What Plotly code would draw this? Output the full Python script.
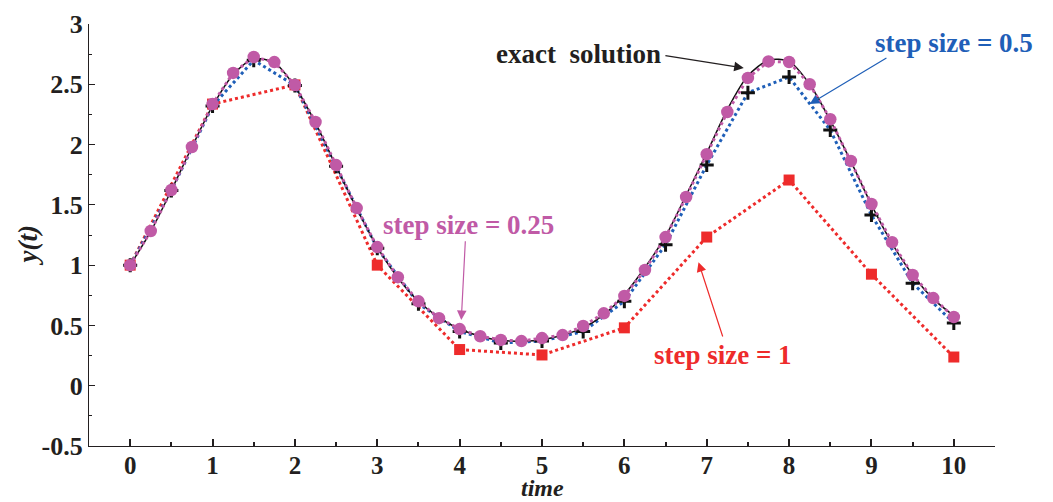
import plotly.graph_objects as go

# ---- data ----
t_exact = [i * 0.25 for i in range(41)]
y_exact = [1.00, 1.28, 1.62, 1.98, 2.32, 2.58, 2.71, 2.68, 2.48, 2.18,
           1.82, 1.47, 1.15, 0.895, 0.70, 0.565, 0.47, 0.41, 0.375, 0.37,
           0.38, 0.42, 0.48, 0.59, 0.755, 0.98, 1.24, 1.58, 1.93, 2.29,
           2.57, 2.70, 2.69, 2.50, 2.20, 1.86, 1.50, 1.18, 0.92, 0.72, 0.58]

t_h025 = [i * 0.25 for i in range(41)]
y_h025 = [1.00, 1.283, 1.623, 1.98, 2.336, 2.594, 2.726, 2.684, 2.494, 2.187,
          1.83, 1.473, 1.15, 0.90, 0.70, 0.56, 0.47, 0.41, 0.38, 0.37,
          0.395, 0.42, 0.495, 0.60, 0.745, 0.96, 1.233, 1.565, 1.92, 2.27,
          2.553, 2.69, 2.685, 2.50, 2.21, 1.864, 1.507, 1.19, 0.918, 0.727, 0.57]

t_h05 = [i * 0.5 for i in range(21)]
y_h05 = [1.00, 1.62, 2.32, 2.70, 2.49, 1.82, 1.14, 0.68, 0.45, 0.355,
         0.37, 0.45, 0.70, 1.17, 1.83, 2.43, 2.56, 2.12, 1.415, 0.85, 0.52]

t_h1 = list(range(11))
y_h1 = [1.00, 2.336, 2.495, 1.00, 0.30, 0.255, 0.48, 1.233, 1.706, 0.925, 0.238]

x_ticks = list(range(11))
y_ticks = [-0.5, 0, 0.5, 1, 1.5, 2, 2.5, 3]
y_tick_text = ["-0.5", "0", "0.5", "1", "1.5", "2", "2.5", "3"]

RED = "#EE2B2B"
BLUE = "#1F5FB8"
MAG = "#C05AA6"
INK = "#231F20"
FONT = "Liberation Serif"

fig = go.Figure()

fig.add_trace(go.Scatter(
    x=t_h1, y=y_h1, mode="lines+markers",
    line=dict(color=RED, width=3, dash="3px,3px"),
    marker=dict(symbol="square", size=11, color=RED),
    showlegend=False))

fig.add_trace(go.Scatter(
    x=t_h05, y=y_h05, mode="lines+markers",
    line=dict(color=BLUE, width=3, dash="3px,3px"),
    marker=dict(symbol="cross-thin", size=10, color="#111111",
                line=dict(color="#111111", width=3)),
    showlegend=False))

fig.add_trace(go.Scatter(
    x=t_exact, y=y_exact, mode="lines",
    line=dict(color="#111111", width=1.5, shape="spline", smoothing=0.8),
    showlegend=False))

fig.add_trace(go.Scatter(
    x=t_h025, y=y_h025, mode="lines+markers",
    line=dict(color=MAG, width=3, dash="3px,3px"),
    marker=dict(symbol="circle", size=12.5, color=MAG),
    showlegend=False))

# text labels
labels = [
    ("exact  solution", 5.44, 2.75, INK),
    ("step size = 0.5", 10.0, 2.84, BLUE),
    ("step size = 0.25", 4.11, 1.33, MAG),
    ("step size = 1", 7.2, 0.255, RED),
]
for txt, x, y, c in labels:
    fig.add_annotation(x=x, y=y, text="<b>" + txt + "</b>", showarrow=False,
                       font=dict(family=FONT, size=27, color=c),
                       xanchor="center", yanchor="middle")

# arrows (tail -> head)
arrows = [
    (6.48, 2.74, 7.45, 2.635, INK),
    (9.2, 2.725, 8.25, 2.337, BLUE),
    (4.07, 1.21, 4.02, 0.545, MAG),
    (7.2, 0.396, 6.9, 1.025, RED),
]
for tx, ty, hx, hy, c in arrows:
    fig.add_annotation(x=hx, y=hy, ax=tx, ay=ty, axref="x", ayref="y",
                       xref="x", yref="y", text="", showarrow=True,
                       arrowhead=2, arrowsize=1.6, arrowwidth=1.2, arrowcolor=c)

# axis titles
fig.add_annotation(x=5.0, xref="x", y=-0.099, yref="paper",
                   text="<b><i>time</i></b>", showarrow=False,
                   font=dict(family=FONT, size=24, color=INK),
                   xanchor="center", yanchor="middle", borderpad=0)
fig.add_annotation(x=-0.067, xref="paper", y=0.476, yref="paper",
                   text="<b><i>y(t)</i></b>", showarrow=False, textangle=-90,
                   font=dict(family=FONT, size=27, color=INK),
                   xanchor="center", yanchor="middle")

fig.update_layout(
    width=1053, height=502,
    margin=dict(l=89, r=58, t=24, b=56, autoexpand=False),
    paper_bgcolor="white", plot_bgcolor="white",
    font=dict(family=FONT, color=INK),
    showlegend=False,
)

fig.update_xaxes(
    range=[-0.5, 10.5], tickvals=x_ticks, ticktext=[str(v) for v in x_ticks],
    ticks="inside", ticklen=7, tickwidth=1.5, tickcolor=INK,
    minor=dict(dtick=0.5, tick0=0, ticks="inside", ticklen=4, tickcolor=INK),
    showline=True, linecolor=INK, linewidth=1.2,
    showgrid=False, zeroline=False, automargin=False,
    ticklabelstandoff=-3,
    tickfont=dict(family=FONT, size=25, color=INK, weight="bold"),
)
fig.update_yaxes(
    range=[-0.5, 3], tickvals=y_ticks, ticktext=y_tick_text,
    ticks="inside", ticklen=6, tickwidth=1.2, tickcolor=INK,
    minor=dict(dtick=0.25, tick0=0, ticks="inside", ticklen=3, tickcolor=INK),
    showline=True, linecolor=INK, linewidth=1.2,
    showgrid=False, zeroline=False, automargin=False,
    tickfont=dict(family=FONT, size=26, color=INK, weight="bold"),
)

fig.write_html(
    "out.html",
    config={"displayModeBar": False},
    post_script="document.body.style.margin='0';document.body.style.padding='0';",
)
